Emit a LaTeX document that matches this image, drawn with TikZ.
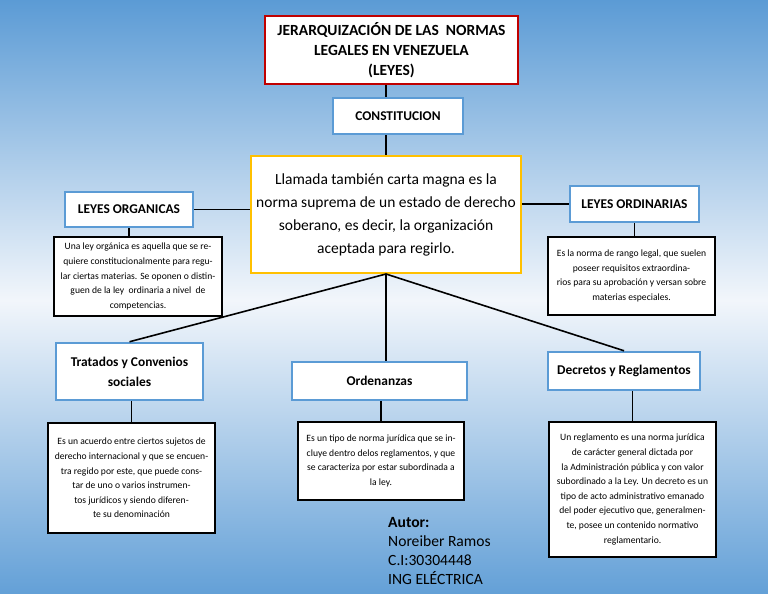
\documentclass[tikz,border=0pt]{standalone}
\usepackage{fontspec}
\setmainfont{Carlito}

\definecolor{cielo}{HTML}{5B9BD5}
\definecolor{claro}{HTML}{F2F6FB}
\definecolor{rojo}{HTML}{C00000}
\definecolor{oro}{HTML}{FFC000}

\tikzset{
  caja/.style={draw=cielo, line width=2.5pt, fill=white, align=center, inner sep=0pt,
    font=\bfseries\fontsize{13.4}{20}\selectfont},
  nota/.style={draw=black, line width=1.8pt, fill=white, align=center, inner sep=0pt,
    font=\fontsize{9.6}{14.6}\selectfont},
  linea/.style={line width=1.6pt}
}

\begin{document}
\begin{tikzpicture}[x=1pt,y=-1pt]
			% Fondo
			\useasboundingbox (0,0) rectangle (768,594);
			\fill[top color=cielo, bottom color=claro] (0,0) rectangle (768,300);
			\fill[top color=claro, bottom color=cielo!95!white] (0,300) rectangle (768,594);

			% Titulo
			\node[draw=rojo, line width=2.8pt, fill=white, align=center, inner sep=0pt,
			  minimum width=253, minimum height=68, font=\bfseries\fontsize{15.5}{20}\selectfont]
			  (titulo) at (391.5,50) {JERARQUIZACIÓN DE LAS\ \ NORMAS\\LEGALES EN VENEZUELA\\(LEYES)};

			% Constitucion
			\node[caja, minimum width=130, minimum height=36] (const) at (398,116) {CONSTITUCION};
			\node[draw=oro, line width=2pt, fill=white, align=center, inner sep=0pt,
			  minimum width=270, minimum height=117, font=\fontsize{15.5}{23}\selectfont]
			  (carta) at (386,214.5) {Llamada también carta magna es la\\norma suprema de un estado de derecho\\soberano, es decir, la organización\\aceptada para regirlo.};

			% Leyes organicas y ordinarias
			\node[caja, minimum width=128, minimum height=35] (lorg) at (129,209.5) {LEYES ORGANICAS};
			\node[caja, minimum width=129, minimum height=36] (lord) at (634.5,204) {LEYES ORDINARIAS};
			\node[nota, minimum width=168, minimum height=79] (norg) at (138,276.5)
			  {Una ley orgánica es aquella que se re-\\quiere constitucionalmente para regu-\\lar ciertas materias. Se oponen o distin-\\guen de la ley\ \ ordinaria a nivel\ \ de\\competencias.};
			\node[nota, minimum width=167, minimum height=78] (nord) at (631.5,276)
			  {Es la norma de rango legal, que suelen\\poseer requisitos extraordina-\\rios para su aprobación y versan sobre\\materias especiales.};

			% Tratados, ordenanzas, decretos
			\node[caja, minimum width=147, minimum height=57] (trat) at (129.5,371.5) {Tratados y Convenios\\sociales};
			\node[caja, minimum width=175, minimum height=38] (orden) at (379.5,381) {Ordenanzas};
			\node[caja, minimum width=152, minimum height=38] (decr) at (624,371) {Decretos y Reglamentos};

			\node[nota, minimum width=167, minimum height=110] (ntrat) at (131.5,478)
			  {Es un acuerdo entre ciertos sujetos de\\derecho internacional y que se encuen-\\tra regido por este, que puede cons-\\tar de uno o varios instrumen-\\tos jurídicos y siendo diferen-\\te su denominación};
			\node[nota, minimum width=166, minimum height=78] (norden) at (381,461)
			  {Es un tipo de norma jurídica que se in-\\cluye dentro delos reglamentos, y que\\se caracteriza por estar subordinada a\\la ley.};
			\node[nota, minimum width=167, minimum height=135] (ndecr) at (632.5,489.5)
			  {Un reglamento es una norma jurídica\\de carácter general dictada por\\la Administración pública y con valor\\subordinado a la Ley. Un decreto es un\\tipo de acto administrativo emanado\\del poder ejecutivo que, generalmen-\\te, posee un contenido normativo\\reglamentario.};

			% Autor
			\node[anchor=north west, align=left, inner sep=0pt, font=\fontsize{15.6}{19.2}\selectfont]
			  (autor) at (388,517) {\textbf{Autor:}\\Noreiber Ramos\\C.I:30304448\\ING ELÉCTRICA};

			% Conectores
			\draw[linea] (titulo.south -| carta.north) -- (const.north -| carta.north);
			\draw[linea] (const.south -| carta.north) -- (carta.north);
			\draw[linea] (lorg.east) -- (lorg.east -| carta.west);
			\draw[linea] (lord.west) -- (lord.west -| carta.east);
			\draw[linea] (lorg.south) -- (lorg.south |- norg.north);
			\draw[linea] (lord.south) -- (lord.south |- nord.north);
			\draw[linea] (carta.south) -- (trat.north);
			\draw[linea] (carta.south) -- (carta.south |- orden.north);
			\draw[linea] (carta.south) -- (decr.north);
			\draw[linea] (ntrat.north) -- (ntrat.north |- trat.south);
			\draw[linea] (norden.north) -- (norden.north |- orden.south);
			\draw[linea] (ndecr.north) -- (ndecr.north |- decr.south);

		\end{tikzpicture}
\end{document}
